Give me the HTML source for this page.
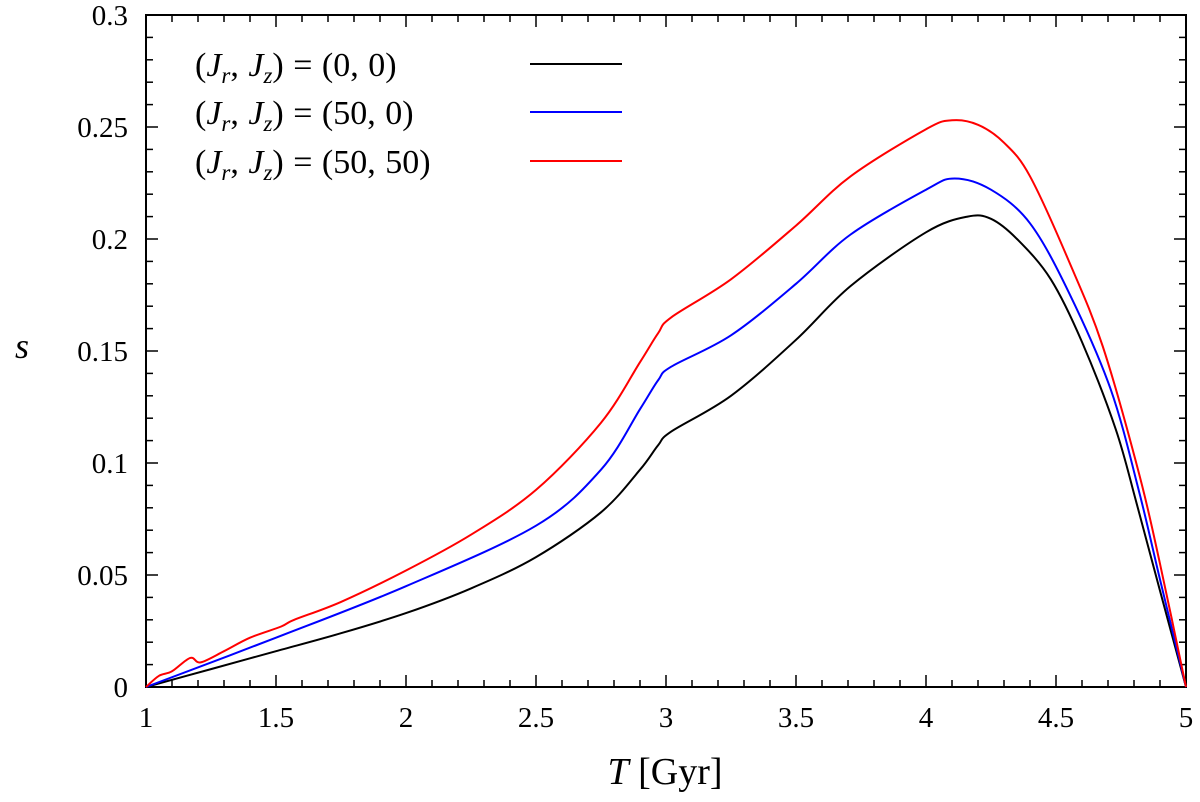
<!DOCTYPE html>
<html><head><meta charset="utf-8"><style>
body{margin:0;background:#fff}
svg text{font-family:"Liberation Serif",serif;fill:#000}
</style></head><body>
<svg width="1200" height="797">
<g id="axes"></g><g id="lines"></g>
<g font-size="34" word-spacing="1">
<text x="195" y="76">(<tspan font-style="italic">J<tspan font-size="23" dy="7">r</tspan></tspan><tspan dy="-7">, </tspan><tspan font-style="italic">J<tspan font-size="23" dy="7">z</tspan></tspan><tspan dy="-7">)  =  (0, 0)</tspan></text>
<text x="195" y="124">(<tspan font-style="italic">J<tspan font-size="23" dy="7">r</tspan></tspan><tspan dy="-7">, </tspan><tspan font-style="italic">J<tspan font-size="23" dy="7">z</tspan></tspan><tspan dy="-7">)  =  (50, 0)</tspan></text>
<text x="195" y="173">(<tspan font-style="italic">J<tspan font-size="23" dy="7">r</tspan></tspan><tspan dy="-7">, </tspan><tspan font-style="italic">J<tspan font-size="23" dy="7">z</tspan></tspan><tspan dy="-7">)  =  (50, 50)</tspan></text>
<line x1="530" x2="622" y1="64" y2="64" stroke="#000" stroke-width="2"/>
<line x1="530" x2="622" y1="112" y2="112" stroke="#00f" stroke-width="2"/>
<line x1="530" x2="622" y1="161" y2="161" stroke="#f00" stroke-width="2"/>
</g>
<text x="665" y="784" font-size="38" text-anchor="middle"><tspan font-style="italic">T</tspan> [Gyr]</text>
<text x="22" y="358" font-size="36" font-style="italic" text-anchor="middle">s</text>
</svg>
<script>
const xTicks=[1,1.5,2,2.5,3,3.5,4,4.5,5];
const xTickLabels=["1","1.5","2","2.5","3","3.5","4","4.5","5"];
const yTicks=[0,0.05,0.1,0.15,0.2,0.25,0.3];
const yTickLabels=["0","0.05","0.1","0.15","0.2","0.25","0.3"];
const tBlack=[1,1.25,1.5,1.75,2,2.25,2.5,2.75,2.9,2.97,3.02,3.25,3.5,3.71,4,4.16,4.25,4.35,4.48,4.6,4.73,4.81,4.9,5];
const sBlack=[0,0.008,0.016,0.024,0.033,0.044,0.058,0.078,0.097,0.108,0.114,0.13,0.155,0.179,0.203,0.21,0.209,0.2,0.182,0.154,0.115,0.082,0.043,0];
const tBlue=[1,1.5,2,2.5,2.75,2.9,2.97,3.02,3.25,3.5,3.71,4,4.11,4.25,4.4,4.55,4.71,4.82,4.9,5];
const sBlue=[0,0.022,0.045,0.072,0.097,0.124,0.137,0.143,0.157,0.18,0.202,0.222,0.227,0.222,0.207,0.176,0.133,0.087,0.048,0];
const tRed=[1,1.05,1.1,1.17,1.21,1.3,1.4,1.52,1.57,1.75,2,2.25,2.5,2.75,2.9,2.97,3.02,3.25,3.5,3.71,4,4.1,4.2,4.3,4.4,4.55,4.68,4.82,4.9,5];
const sRed=[0,0.005,0.007,0.013,0.011,0.016,0.022,0.027,0.030,0.038,0.052,0.068,0.088,0.118,0.145,0.158,0.165,0.182,0.206,0.228,0.249,0.253,0.251,0.243,0.228,0.19,0.152,0.095,0.055,0];
const L=146,R=1186,T=15,B=687;
const X=v=>L+(v-1)/4*(R-L);
const Y=v=>B-v/0.3*(B-T);
const NS="http://www.w3.org/2000/svg";
const ax=document.getElementById('axes'),ln=document.getElementById('lines');
function mk(tag,a,p){const e=document.createElementNS(NS,tag);for(const k in a)e.setAttribute(k,a[k]);p.appendChild(e);return e;}
const frame=mk('rect',{x:L,y:T,width:R-L,height:B-T,fill:'none',stroke:'#000','stroke-width':2},ax);


for(let i=0;i<=40;i++){const v=1+i*0.1,len=(i%5==0)?12:7;
 mk('line',{x1:X(v),x2:X(v),y1:B,y2:B-len,stroke:'#000','stroke-width':1.5},ax);
 mk('line',{x1:X(v),x2:X(v),y1:T,y2:T+len,stroke:'#000','stroke-width':1.5},ax);}
for(let i=0;i<=30;i++){const v=i*0.01,len=(i%5==0)?12:7;
 mk('line',{x1:L,x2:L+len,y1:Y(v),y2:Y(v),stroke:'#000','stroke-width':1.5},ax);
 mk('line',{x1:R,x2:R-len,y1:Y(v),y2:Y(v),stroke:'#000','stroke-width':1.5},ax);}
xTicks.forEach((v,i)=>{const t=mk('text',{x:X(v),y:727,'font-size':29,'text-anchor':'middle'},ax);t.textContent=xTickLabels[i];
 
 });
yTicks.forEach((v,i)=>{const t=mk('text',{x:128,y:Y(v)+10,'font-size':29,'text-anchor':'end'},ax);t.textContent=yTickLabels[i];
 
 });
function line(ts,ss,c,name){
 const P=ts.map((t,i)=>[X(t),Y(ss[i])]);
 let d='M'+P[0][0].toFixed(1)+' '+P[0][1].toFixed(1);
 for(let i=0;i<P.length-1;i++){
  const p0=P[Math.max(0,i-1)],p1=P[i],p2=P[i+1],p3=P[Math.min(P.length-1,i+2)];
  const k=1/6;
  const c1=[p1[0]+(p2[0]-p0[0])*k,p1[1]+(p2[1]-p0[1])*k];
  const c2=[p2[0]-(p3[0]-p1[0])*k,p2[1]-(p3[1]-p1[1])*k];
  d+=' C'+c1.map(v=>v.toFixed(1)).join(' ')+' '+c2.map(v=>v.toFixed(1)).join(' ')+' '+p2[0].toFixed(1)+' '+p2[1].toFixed(1);
 }
 const p=mk('path',{d:d,fill:'none',stroke:c,'stroke-width':2,'stroke-linejoin':'round'},ln);
 
 }
line(tBlack,sBlack,'#000','series-00');
line(tBlue,sBlue,'#00f','series-500');
line(tRed,sRed,'#f00','series-5050');
</script>
</body></html>
